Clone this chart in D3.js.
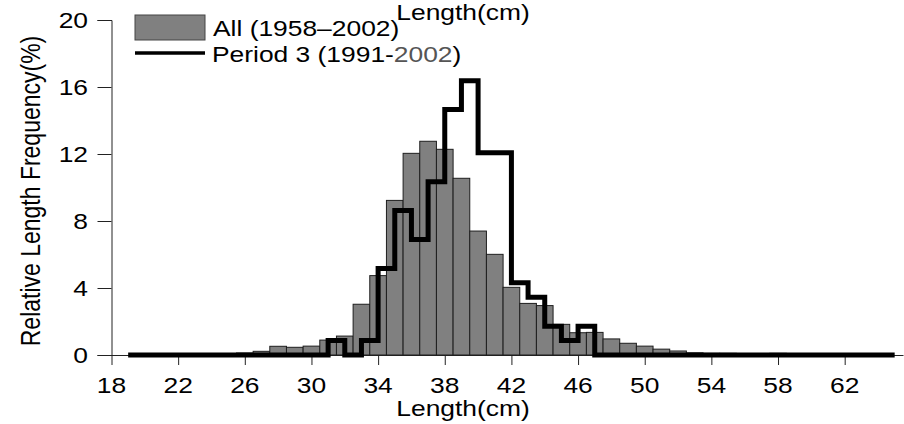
<!DOCTYPE html>
<html>
<head>
<meta charset="utf-8">
<script src="https://cdn.jsdelivr.net/npm/d3@7"></script>
<style>
  html, body { margin: 0; padding: 0; background: #fff; }
  svg { display: block; font-family: "Liberation Sans", Arial, sans-serif; }
</style>
</head>
<body>
<svg id="chart" width="904" height="424"></svg>
<script>
// length classes (cm) and relative frequencies (%)
const barLengths = [24, 25, 26, 27, 28, 29, 30, 31, 32, 33, 34, 35, 36, 37, 38, 39, 40, 41,
                    42, 43, 44, 45, 46, 47, 48, 49, 50, 51, 52, 53, 54, 55, 56, 57, 58, 59];
const allFreq = [0.03, 0.08, 0.12, 0.22, 0.52, 0.46, 0.53, 0.89, 1.13, 3.03, 4.74, 9.23, 12.04, 12.76, 12.28, 10.55, 7.40, 6.01,
                 4.04, 3.08, 2.95, 1.83, 1.33, 1.35, 0.96, 0.70, 0.53, 0.35, 0.24, 0.13, 0.10, 0.10, 0.06, 0.06, 0.10, 0.03];

const periodLengths = [19, 20, 21, 22, 23, 24, 25, 26, 27, 28, 29, 30, 31, 32, 33, 34, 35, 36, 37, 38, 39, 40, 41, 42,
                       43, 44, 45, 46, 47, 48, 49, 50, 51, 52, 53, 54, 55, 56, 57, 58, 59, 60, 61, 62, 63, 64, 65];
const period3Freq = [0, 0, 0, 0, 0, 0, 0, 0, 0, 0, 0, 0, 0.86, 0, 0.86, 5.17, 8.62, 6.90, 10.34, 14.66, 16.38, 12.07, 12.07, 4.31,
                     3.45, 1.72, 0.86, 1.72, 0, 0, 0, 0, 0, 0, 0, 0, 0, 0, 0, 0, 0, 0, 0, 0, 0, 0, 0];

const xTicks = [18, 22, 26, 30, 34, 38, 42, 46, 50, 54, 58, 62];
const yTicks = [0, 4, 8, 12, 16, 20];

const seriesNames = ['All (1958\u20132002)', 'Period 3 (1991-'];
const axisTitleX = 'Length(cm)';
const axisTitleY = 'Relative Length Frequency(%)';

const svg = d3.select('#chart');
const stretch = 1.2;      // the original figure is widened horizontally
const fontSize = 22;

const x = d3.scaleLinear().domain([18, 65.5]).range([111.5, 903]);
const y = d3.scaleLinear().domain([0, 20]).range([355, 20]);

// helper for horizontally stretched labels
function label(parent, px, py, str, anchor) {
    return parent.append('text')
        .attr('transform', `translate(${px},${py}) scale(${stretch},1)`)
        .attr('text-anchor', anchor || 'start')
        .attr('font-size', fontSize + 'px')
        .attr('fill', '#000')
        .text(str);
}

// Axes
const xAxis = svg.append('g')
    .attr('transform', `translate(0,${y(0)})`)
    .call(d3.axisBottom(x).tickValues(xTicks).tickSize(10).tickSizeOuter(0).tickFormat(''));
xAxis.selectAll('path, line').attr('stroke', '#222');

const yAxis = svg.append('g')
    .attr('transform', `translate(${x(18)},0)`)
    .call(d3.axisLeft(y).tickValues(yTicks).tickSize(14).tickSizeOuter(14).tickFormat(''));
yAxis.selectAll('path, line').attr('stroke', '#222');

xTicks.forEach(t => label(svg, x(t), 393, t, 'middle'));
yTicks.forEach(t => label(svg, 88, y(t) + 8, t, 'end'));

// Axis titles
label(svg, 463, 416, axisTitleX, 'middle');
label(svg, 463, 20, axisTitleX, 'middle');
svg.append('text')
    .attr('transform', `translate(40,191) scale(${stretch},1) rotate(-90)`)
    .attr('text-anchor', 'middle')
    .attr('font-size', '23px')
    .text(axisTitleY);

// Bars: All (1958-2002)
svg.append('g')
    .selectAll('rect')
    .data(barLengths.map((l, i) => ({ len: l, freq: allFreq[i] })))
    .enter().append('rect')
    .attr('x', d => x(d.len - 0.5))
    .attr('width', d => x(d.len + 0.5) - x(d.len - 0.5))
    .attr('y', d => y(d.freq))
    .attr('height', d => y(0) - y(d.freq))
    .attr('fill', '#808080')
    .attr('stroke', '#1e1e1e')
    .attr('stroke-width', 1);

// Step line: Period 3
const line = d3.line()
    .x(d => x(d.len))
    .y(d => y(d.freq))
    .curve(d3.curveStepAfter);

svg.append('path')
    .datum(periodLengths.map((l, i) => ({ len: l, freq: period3Freq[i] })))
    .attr('fill', 'none')
    .attr('stroke', '#000')
    .attr('stroke-width', 5)
    .attr('stroke-linejoin', 'miter')
    .attr('d', line);

// Legend
const legend = svg.append('g');
legend.append('rect')
    .attr('x', 135).attr('y', 15)
    .attr('width', 70).attr('height', 25)
    .attr('fill', '#808080')
    .attr('stroke', '#444');
label(legend, 213, 36, seriesNames[0]);

legend.append('line')
    .attr('x1', 135).attr('x2', 205)
    .attr('y1', 53).attr('y2', 53)
    .attr('stroke', '#000')
    .attr('stroke-width', 3.5);
const p3 = label(legend, 212, 62, seriesNames[1]);
p3.append('tspan').attr('fill', '#555').text('2002');
p3.append('tspan').text(')');
</script>
</body>
</html>
